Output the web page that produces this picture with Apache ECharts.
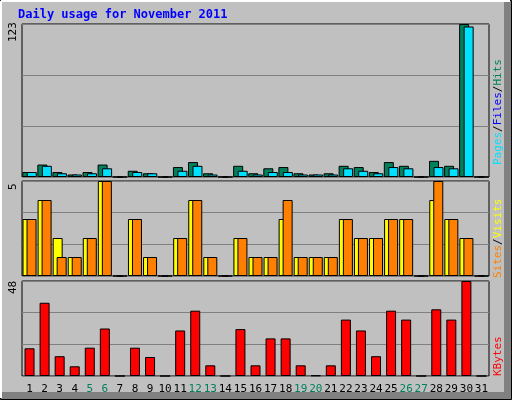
<!DOCTYPE html>
<html><head><meta charset="utf-8">
<script src="https://cdn.jsdelivr.net/npm/echarts@6/dist/echarts.min.js"></script>
<style>html,body{margin:0;padding:0;background:#fff}#c{width:512px;height:400px}</style>
</head><body><div id="c"></div>
<script>
const days = Array.from({length:31},(_,i)=>String(i+1));
const weekend = ['5','6','12','13','19','20','26','27'];
const hits   = [4,10,4,2,4,10,0,5,3,0,8,12,3,0,9,3,7,8,3,2,3,9,8,4,12,9,0,13,9,123,0];
const files  = [4,9,3,2,3,7,0,4,3,0,5,9,2,0,5,2,4,4,2,2,2,7,5,3,8,7,0,8,7,121,0];
const visits = [3,4,2,1,2,5,0,3,1,0,2,4,1,0,2,1,1,3,1,1,1,3,2,2,3,3,0,4,3,2,0];
const sites  = [3,4,1,1,2,5,0,3,1,0,2,4,1,0,2,1,1,4,1,1,1,3,2,2,3,3,0,5,3,2,0];
const kbytes = [14,37,10,4.9,14.3,24,0,14.3,9.6,0,23,33,5.4,0,23.7,5.4,19,19,5.4,0.3,5.4,28.5,23,10,33,28.5,0,33.7,28.5,48,0];
const maxTop=123, maxMid=5, maxBot=48;

const ch = echarts.init(document.getElementById('c'));
const mono = 'DejaVu Sans Mono';
const grids = [
  {left:22,right:23,top:24,height:153},
  {left:22,right:23,top:181,height:95},
  {left:22,right:23,top:281,height:95}
];
const maxes=[maxTop,maxMid,maxBot];
const xAxes = grids.map((g,i)=>({type:'category',gridIndex:i,data:days,
  axisLine:{show:false},axisTick:{show:false},
  axisLabel:{show:i===2,interval:0,fontFamily:mono,fontSize:11,margin:8,
    formatter:v=>weekend.includes(v)?'{w|'+v+'}':'{n|'+v+'}',
    rich:{w:{color:'#00805c',fontFamily:mono,fontSize:11},n:{color:'#000',fontFamily:mono,fontSize:11}}}}));
const yAxes = grids.map((g,i)=>({type:'value',gridIndex:i,min:0,max:maxes[i],interval:maxes[i]/3,
  axisLine:{show:false},axisTick:{show:false},axisLabel:{show:false},
  splitLine:{show:true,lineStyle:{color:'#808080',width:1}}}));
const bs={borderColor:'#000',borderWidth:1};
ch.setOption({
  animation:false,
  backgroundColor:'#c0c0c0',
  grid:grids.map(g=>Object.assign({show:true,backgroundColor:'#c0c0c0',borderColor:'#000',borderWidth:1},g)),
  xAxis:xAxes, yAxis:yAxes,
  series:[
    {type:'bar',xAxisIndex:0,yAxisIndex:0,data:hits,barWidth:10,barGap:'-55%',itemStyle:Object.assign({color:'#00805c'},bs)},
    {type:'bar',xAxisIndex:0,yAxisIndex:0,data:files,barWidth:10,itemStyle:Object.assign({color:'#00e0ff'},bs)},
    {type:'bar',xAxisIndex:1,yAxisIndex:1,data:visits,barWidth:10,barGap:'-60%',itemStyle:Object.assign({color:'#ffff00'},bs)},
    {type:'bar',xAxisIndex:1,yAxisIndex:1,data:sites,barWidth:10,itemStyle:Object.assign({color:'#ff8000'},bs)},
    {type:'bar',xAxisIndex:2,yAxisIndex:2,data:kbytes,barWidth:10,itemStyle:Object.assign({color:'#ff0000'},bs)}
  ],
  graphic:[
    {type:'rect',z:-10,shape:{x:0.5,y:0.5,width:511,height:399},style:{fill:'#c0c0c0',stroke:'#000',lineWidth:1}},
    {type:'rect',z:-9,shape:{x:1,y:392,width:510,height:7},style:{fill:'#808080'}},
    {type:'rect',z:-9,shape:{x:504,y:1,width:7,height:398},style:{fill:'#808080'}},
    {type:'line',z:-8,shape:{x1:1,y1:1,x2:510,y2:1},style:{stroke:'#fff',lineWidth:2}},
    {type:'line',z:-8,shape:{x1:1,y1:1,x2:1,y2:398},style:{stroke:'#fff',lineWidth:2}},
    {type:'text',x:18,y:9,style:{text:'Daily usage for November 2011',fill:'#0000ff',font:'bold 12px "DejaVu Sans Mono"'}},
    {type:'text',x:8,y:42,rotation:Math.PI/2,style:{text:String(maxTop),fill:'#000',font:'11px "DejaVu Sans Mono"'}},
    {type:'text',x:8,y:190,rotation:Math.PI/2,style:{text:String(maxMid),fill:'#000',font:'11px "DejaVu Sans Mono"'}},
    {type:'text',x:8,y:294,rotation:Math.PI/2,style:{text:String(maxBot),fill:'#000',font:'11px "DejaVu Sans Mono"'}},
    {type:'text',x:493,y:165,rotation:Math.PI/2,style:{text:'{a|Pages}{s|/}{b|Files}{s|/}{c|Hits}',
      rich:{a:{fill:'#00e0ff',font:'11px "DejaVu Sans Mono"'},b:{fill:'#0000ff',font:'11px "DejaVu Sans Mono"'},c:{fill:'#00805c',font:'11px "DejaVu Sans Mono"'},s:{fill:'#000',font:'11px "DejaVu Sans Mono"'}}}},
    {type:'text',x:493,y:278,rotation:Math.PI/2,style:{text:'{a|Sites}{s|/}{b|Visits}',
      rich:{a:{fill:'#ff8000',font:'11px "DejaVu Sans Mono"'},b:{fill:'#ffff00',font:'11px "DejaVu Sans Mono"'},s:{fill:'#000',font:'11px "DejaVu Sans Mono"'}}}},
    {type:'text',x:493,y:376,rotation:Math.PI/2,style:{text:'KBytes',fill:'#ff0000',font:'11px "DejaVu Sans Mono"'}}
  ]
});
</script></body></html>
